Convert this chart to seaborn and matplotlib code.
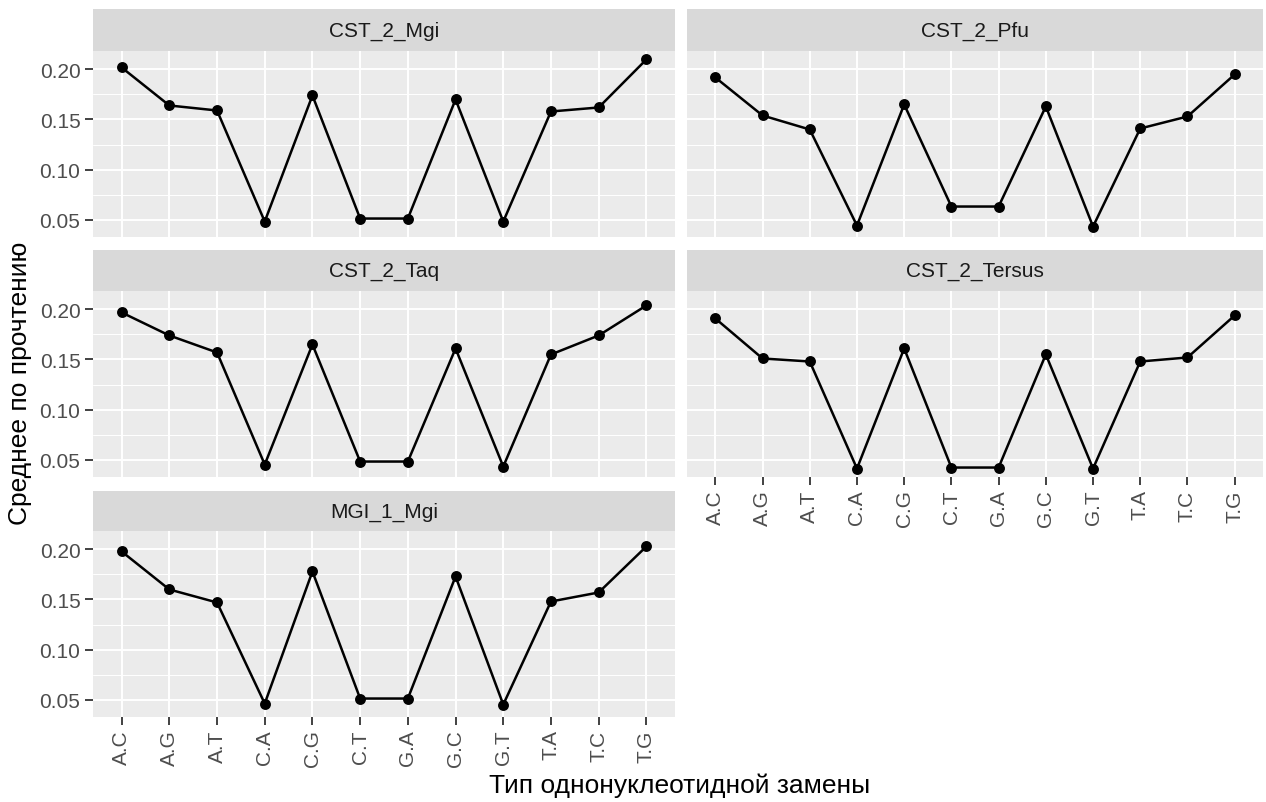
import numpy as np
import pandas as pd
import seaborn as sns
import matplotlib.pyplot as plt
from matplotlib.ticker import MultipleLocator

# data
types = ["A.C", "A.G", "A.T", "C.A", "C.G", "C.T", "G.A", "G.C", "G.T", "T.A", "T.C", "T.G"]
panels = ["CST_2_Mgi", "CST_2_Pfu", "CST_2_Taq", "CST_2_Tersus", "MGI_1_Mgi"]

cst2_mgi = [0.202, 0.164, 0.159, 0.048, 0.174, 0.051, 0.051, 0.170, 0.048, 0.158, 0.162, 0.210]
cst2_pfu = [0.192, 0.154, 0.140, 0.044, 0.165, 0.063, 0.063, 0.163, 0.043, 0.141, 0.153, 0.195]
cst2_taq = [0.197, 0.174, 0.157, 0.045, 0.165, 0.048, 0.048, 0.161, 0.043, 0.155, 0.174, 0.204]
cst2_tersus = [0.191, 0.151, 0.148, 0.041, 0.161, 0.042, 0.042, 0.155, 0.041, 0.148, 0.152, 0.194]
mgi1_mgi = [0.198, 0.160, 0.147, 0.046, 0.178, 0.051, 0.051, 0.173, 0.045, 0.148, 0.157, 0.203]

values = [cst2_mgi, cst2_pfu, cst2_taq, cst2_tersus, mgi1_mgi]
df = pd.concat([pd.DataFrame({"panel": p, "type": types, "value": v}) for p, v in zip(panels, values)])

sns.set_style("white")
plt.rcParams["font.family"] = ["Liberation Sans", "DejaVu Sans"]

W, H = 1266, 803
fig = plt.figure(figsize=(W / 100, H / 100), dpi=100)


def rect(x0, y0, x1, y1):
    return [x0 / W, 1 - y1 / H, (x1 - x0) / W, (y1 - y0) / H]


cols = [(93, 675), (687, 1263)]
rows = [((10, 52), (52, 238)), ((251, 292), (292, 478)), ((492, 532), (532, 718))]

all_vals = np.concatenate(values)
lo, hi = all_vals.min(), all_vals.max()
pad = (hi - lo) * 0.05

for i, name in enumerate(panels):
    r, c = divmod(i, 2)
    (sy0, sy1), (py0, py1) = rows[r]
    x0, x1 = cols[c]

    # strip
    sax = fig.add_axes(rect(x0, sy0, x1, sy1))
    sax.set_facecolor("#D9D9D9")
    sax.set_xticks([])
    sax.set_yticks([])
    for s in sax.spines.values():
        s.set_visible(False)
    sax.text(0.5, 0.5, name, ha="center", va="center", fontsize=15, color="#1A1A1A",
             transform=sax.transAxes)

    ax = fig.add_axes(rect(x0, py0, x1, py1))
    ax.set_facecolor("#EBEBEB")
    sub = df[df["panel"] == name]
    sns.pointplot(data=sub, x="type", y="value", order=types, color="black",
                  markersize=6.5, linewidth=1.8, ax=ax)
    ax.set_xlim(-0.6, 11.6)
    ax.set_ylim(lo - pad, hi + pad)
    ax.yaxis.set_major_locator(MultipleLocator(0.05))
    ax.yaxis.set_minor_locator(MultipleLocator(0.025))
    ax.grid(which="major", color="white", linewidth=1.4)
    ax.grid(which="minor", axis="y", color="white", linewidth=0.7)
    ax.set_axisbelow(True)
    for s in ax.spines.values():
        s.set_visible(False)
    ax.set_xlabel("")
    ax.set_ylabel("")

    show_x = (i == 3 or i == 4)
    show_y = (c == 0)
    ax.tick_params(axis="both", which="minor", length=0)
    ax.tick_params(axis="x", which="major", bottom=show_x, labelbottom=show_x,
                   length=6, width=1.3, color="#333333", labelsize=15, labelcolor="#4D4D4D",
                   labelrotation=90, pad=3)
    ax.tick_params(axis="y", which="major", left=show_y, labelleft=show_y,
                   length=6, width=1.3, color="#333333", labelsize=15, labelcolor="#4D4D4D", pad=3)
    if show_y:
        ax.set_yticklabels([f"{t:.2f}" for t in ax.get_yticks()])

fig.text(20 / W, 1 - 383 / H, "Среднее по прочтению", rotation=90, ha="center", va="center",
         fontsize=19, color="black")
fig.text(680 / W, 1 - 786 / H, "Тип однонуклеотидной замены", ha="center", va="center",
         fontsize=19, color="black")

plt.savefig("out.png", dpi=100)
